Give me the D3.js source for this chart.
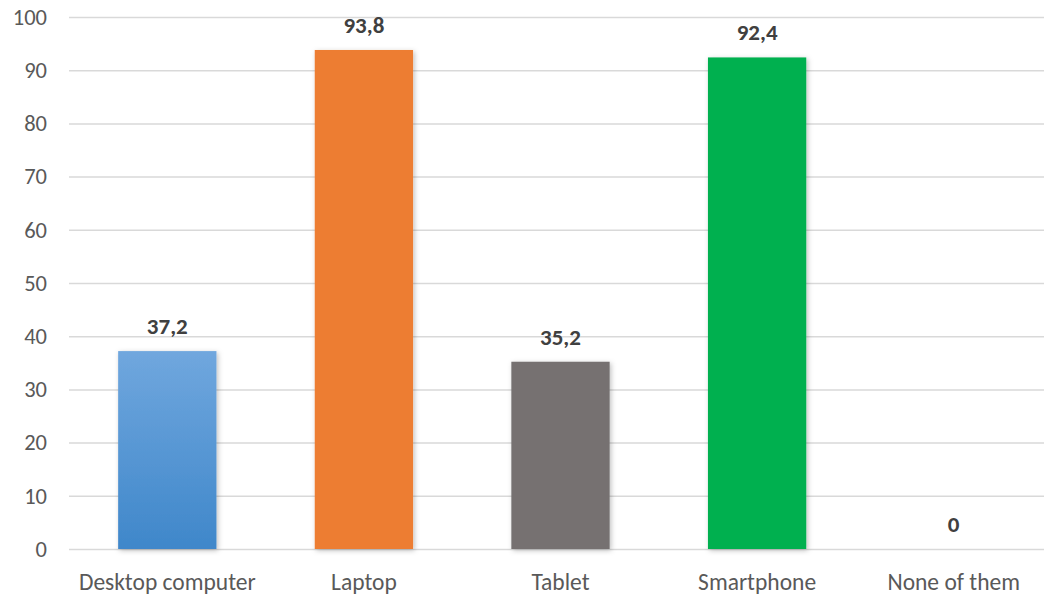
<!DOCTYPE html>
<html>
<head>
<meta charset="utf-8">
<script src="https://cdn.jsdelivr.net/npm/d3@7"></script>
<style>
  html, body { margin: 0; padding: 0; background: #fff; }
  svg { display: block; }
  text { font-family: Carlito, "Open Sans", "Noto Sans", sans-serif; }
</style>
</head>
<body>
<svg id="chart" width="1044" height="596"></svg>
<script>
const categories = ["Desktop computer", "Laptop", "Tablet", "Smartphone", "None of them"];
const values = [37.2, 93.8, 35.2, 92.4, 0];
const valueLabels = ["37,2", "93,8", "35,2", "92,4", "0"];
const colors = ["#5b9bd5", "#ed7d31", "#767171", "#00b050", "#a5a5a5"];
const yTicks = [0, 10, 20, 30, 40, 50, 60, 70, 80, 90, 100];

const svg = d3.select("#chart");
const margin = { left: 69, top: 17, bottom: 47 };
const bandStep = 196.6;
const plotW = bandStep * categories.length;
const height = 596;

const x = d3.scaleBand().domain(categories)
  .range([margin.left, margin.left + plotW]).paddingInner(0.5).paddingOuter(0.25);
const y = d3.scaleLinear().domain([0, 100]).range([height - margin.bottom, margin.top]);

const defs = svg.append("defs");
const grad = defs.append("linearGradient").attr("id", "blueGrad")
  .attr("x1", 0).attr("y1", 0).attr("x2", 0).attr("y2", 1);
grad.append("stop").attr("offset", "0%").attr("stop-color", "#70a7de");
grad.append("stop").attr("offset", "100%").attr("stop-color", "#3f87ca");

const shadow = defs.append("filter").attr("id", "shadow")
  .attr("x", "-20%").attr("y", "-20%").attr("width", "140%").attr("height", "140%");
shadow.append("feDropShadow").attr("dx", 1.5).attr("dy", 1.5).attr("stdDeviation", 2.5)
  .attr("flood-color", "#000").attr("flood-opacity", 0.25);

// horizontal grid + y tick labels
const yAxis = d3.axisLeft(y).tickValues(yTicks).tickSize(-plotW).tickPadding(22);
const gy = svg.append("g").attr("transform", `translate(${margin.left},0)`).call(yAxis);
gy.select(".domain").remove();
gy.selectAll(".tick line").attr("stroke", "#d9d9d9").attr("stroke-width", 1.5);
gy.selectAll(".tick text").attr("fill", "#595959").style("font-size", "22.5px")
  .style("font-family", "Carlito, 'Open Sans', sans-serif");

// category labels
const xAxis = d3.axisBottom(x).tickSize(0).tickPadding(24);
const gx = svg.append("g").attr("transform", `translate(0,${y(0)})`).call(xAxis);
gx.select(".domain").remove();
gx.selectAll(".tick text").attr("fill", "#595959").style("font-size", "23.5px")
  .style("font-family", "Carlito, 'Open Sans', sans-serif");

// bars
svg.append("g").selectAll("rect").data(values).join("rect")
  .attr("x", (d, i) => x(categories[i]))
  .attr("width", x.bandwidth())
  .attr("y", d => y(d))
  .attr("height", d => y(0) - y(d))
  .attr("fill", (d, i) => i === 0 ? "url(#blueGrad)" : colors[i])
  .attr("filter", "url(#shadow)");

// value labels
svg.append("g").selectAll("text").data(values).join("text")
  .attr("x", (d, i) => x(categories[i]) + x.bandwidth() / 2)
  .attr("y", d => y(d) - 17)
  .attr("text-anchor", "middle")
  .attr("fill", "#404040")
  .style("font-size", "23px")
  .style("font-weight", "bold")
  .text((d, i) => valueLabels[i]);
</script>
</body>
</html>
